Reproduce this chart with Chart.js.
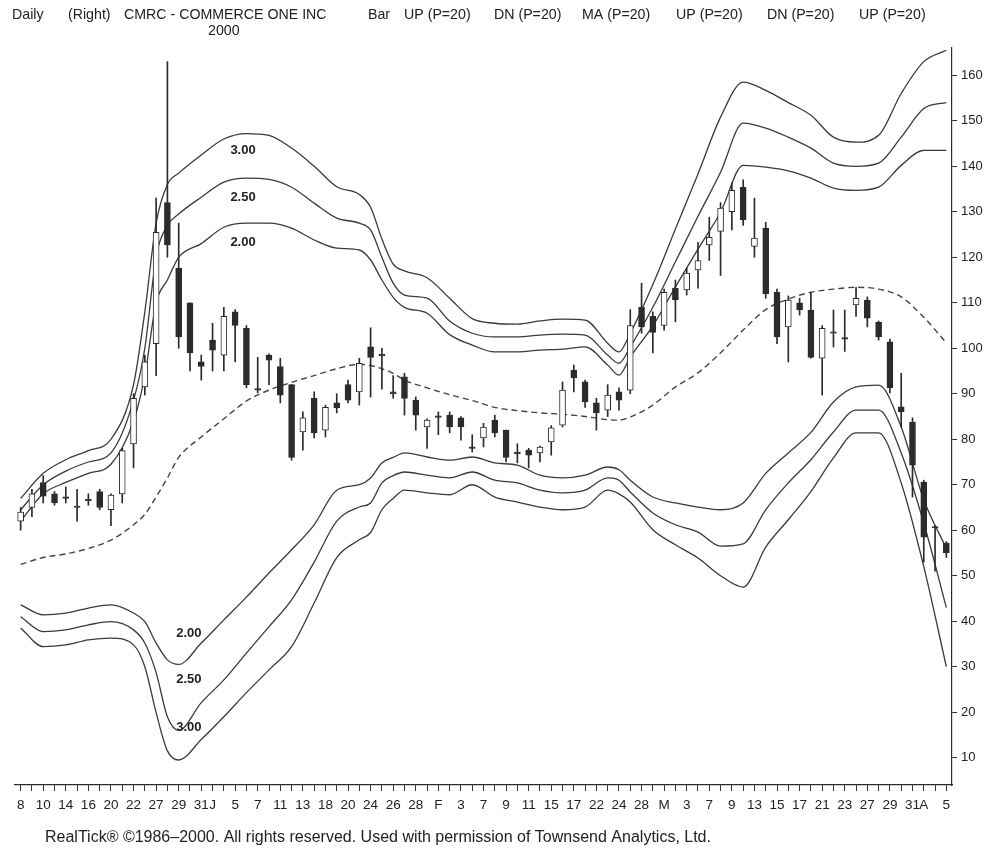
<!DOCTYPE html>
<html lang="en">
<head>
<meta charset="UTF-8">
<title>CMRC - Commerce One Inc 2000</title>
<script src="https://cdn.jsdelivr.net/npm/chart.js"></script>
<style>
  html, body { margin: 0; padding: 0; background: #fff; }
  #wrap { width: 994px; height: 856px; position: relative; }
</style>
</head>
<body>
<div id="wrap"><canvas id="chart"></canvas></div>

<script>
// trading days, Dec 8 1999 .. Apr 5 2000
const dates = [
  '12/08','12/09','12/10','12/13','12/14','12/15','12/16','12/17','12/20','12/21','12/22','12/23','12/27','12/28','12/29','12/30','12/31',
  '01/03','01/04','01/05','01/06','01/07','01/10','01/11','01/12','01/13','01/14','01/18','01/19','01/20','01/21','01/24','01/25','01/26','01/27','01/28','01/31',
  '02/01','02/02','02/03','02/04','02/07','02/08','02/09','02/10','02/11','02/14','02/15','02/16','02/17','02/18','02/22','02/23','02/24','02/25','02/28','02/29',
  '03/01','03/02','03/03','03/06','03/07','03/08','03/09','03/10','03/13','03/14','03/15','03/16','03/17','03/20','03/21','03/22','03/23','03/24','03/27','03/28','03/29','03/30','03/31',
  '04/03','04/04','04/05'
];

const xTickLabels = [
  '8','','10','','14','','16','','20','','22','','27','','29','','31',
  'J','','5','','7','','11','','13','','18','','20','','24','','26','','28','',
  'F','','3','','7','','9','','11','','15','','17','','22','','24','','28','',
  'M','','3','','7','','9','','13','','15','','17','','21','','23','','27','','29','','31',
  'A','','5'
];

const opens  = [62,65,70.5,68,67.2,65.3,66.8,68.5,64.5,68,79,91.5,101,132,117.6,110,97,101.8,98.5,108,104.4,91,98.5,96,92,81.6,89,82,88,92,90.4,100.3,98.7,90.4,93.7,88.6,82.7,85,85.3,84.7,78.2,80.3,84.2,82,77,77.6,77,79.4,83.1,95.2,92.6,88,86.4,90.4,90.8,109,107,105,113.2,112.8,117.2,122.7,125.7,130,135.4,122.4,126.4,112.3,104.7,110,108.4,97.8,103.5,102.2,109.5,110.6,105.7,101.4,87.1,83.8,70.6,60.7,57.2];
const highs  = [65,69,72,68.5,69.5,69,68,69,68,78,90,98.5,133,163,127.5,110,98.5,105.5,109,108.5,105,98,98.8,97.8,92,86,90.4,87.5,90,93,97.8,104.5,100,94,94.5,89.3,84.5,86,86,85,81,83.5,85.3,82,79,78,78.5,83,92.6,96.3,93,89,92,91.3,108.5,114.3,108,113,115,117.6,123.3,128.8,132,136.3,137,133,127.7,113,111.5,111,112.3,105,108.4,108.4,113.4,111.3,106,102,94.5,84.7,71,61,57.5];
const lows   = [60,63,66,65.5,66,62,65.5,64.5,61,66,73.7,89.7,94,120,100,95,93,95,95,97,91.3,90.2,92,88,75.4,77.6,80.3,80.5,85.8,88,87.5,89.3,91,89,85.3,82,78,81,81.4,79.8,77.2,78.3,80.5,75,74.8,73.7,75,76.5,82.7,90.4,87,82,85,86.4,90,103.3,99,104,105.8,111.7,113.2,119.3,116,126,127,120,111,101,97,107.3,97.8,89.7,100.3,99.3,107,104.7,101.8,90.2,82.7,67.3,53,51,54];
const closes = [64,68,67.5,66,67,65,66.5,65,67.7,77.5,89,97,125.5,122.7,102.5,99,96,99.6,107,105,92,90.8,97.4,89.7,76,84.7,81.4,87,86.9,88.6,96.7,98,98.3,90,89,85.3,84.2,84.8,82.7,82.7,78,82.7,81.4,76,76.8,76.5,78.3,82.5,90.8,93.5,88.2,85.8,89.7,88.6,105,104.7,103.5,112.3,110.6,116.5,119.3,124.4,130.8,134.7,128.2,124.2,112,102.5,110.6,108.4,98,104.4,103.3,102,111,106.6,102.5,91.3,86,74.3,58.5,60.5,55];

// days (index into dates) at which the band lines were read
const bandIdx = [0,2,4,6,8,10,11,12,13,14,16,18,20,22,24,26,28,30,31,32,33,34,36,38,40,42,44,46,48,50,52,53,54,56,58,60,62,64,66,68,70,72,74,76,78,80,82];

const up30 = [67,72.5,75.5,77.5,80,92,108,127.5,136,138.5,142.5,146,147.2,146.8,144,140,135.5,133.8,131,124,118.5,117,115.5,111,106.5,105.5,105.3,106,106.4,106.2,101.1,99.2,103.3,114,126.2,138.3,150.8,158.5,156.7,154,151.2,146.4,145.3,146.8,156,163,165.5];
const up25 = [64.5,70,73,75,77,88.6,100,120,127,129.5,133.2,136.5,137.4,137.1,135.4,131.9,128.6,127.5,126,120,114.3,111.7,111,106,103.3,102.5,102.5,102.9,103.1,102.9,98.5,96.7,100.3,109,119,129,138.7,149.5,148.4,146.4,144,140.7,140,140.7,146.4,152.7,154];
const up20 = [62,68,70.5,72.5,74.5,84,94,110,115,120,123,126.6,127.5,127.5,126.4,123.8,122,121.6,119.4,115,111.2,109,107.7,103,100.7,99.2,99.2,99.6,99.8,100.3,96.3,94.1,98.1,104.9,113.5,121.8,129.9,140.2,139.8,139,137.4,135.2,134.7,135.4,140.2,143.5,143.5];
const ma20 = [52.5,54,54.8,56,57.8,61.2,63.5,67.3,71.5,76,80.5,84.5,88.4,90.8,92.5,94,95.5,96.5,96.2,95.5,94.5,93,91.3,89.8,88.5,87,86.3,85.8,85.5,85,84.3,84.2,84.9,87.5,91.5,94.6,99,104,108.5,110.8,112.3,113,113.4,113,111.3,106.8,101.2];
const dn20 = [43.6,41.4,41.8,42.9,43.6,41.8,39.9,35.2,31.5,30.5,35.2,40.3,45.3,50.6,55.7,61.2,68.8,70,71.5,74.8,76,77,76.1,75.4,76.1,74.8,74.3,72.1,71.5,72.1,73.9,73.3,71,67.3,66,65.1,64.5,66,72.5,77,81.5,88.2,91.5,91.9,82.7,66.7,56];
const dn25 = [41,37.7,38.1,39.2,39.9,38.1,35.2,28.7,19,16,22.1,27.1,33,38.8,44.7,53,62,65.1,66,70.4,72,72.8,72.1,71.5,72.8,71,70.4,68.8,68.2,68.8,71.5,71,68.4,63.8,61.2,59.6,56.5,57,64.5,70.4,75.5,81.6,86.4,86.4,77,61.6,43];
const dn30 = [38.5,34.4,34.8,35.9,36.3,34.8,30,19.9,11.5,9.5,14,19,24.3,29.3,34.4,44,54,57.9,59.5,64.5,67,68.8,68.2,67.8,70,67.3,66.2,65.1,64.5,65.1,68.8,68,66.2,60.1,56.8,53.9,50,47.5,56.3,62.3,68.5,75.9,81.4,81.4,70.4,52,30];

const ink = '#2b2b2b';
const family = '"Liberation Sans", Arial, sans-serif';

const bodies = dates.map((d, i) => [Math.min(opens[i], closes[i]), Math.max(opens[i], closes[i])]);
const wicks = dates.map((d, i) => [lows[i], highs[i]]);
const bodyFill = dates.map((d, i) => closes[i] < opens[i] ? ink : '#ffffff');
const band = vals => vals.map((v, k) => ({ x: dates[bandIdx[k]], y: v }));

const lineStyle = {
  type: 'line',
  borderColor: '#3a3a3a',
  borderWidth: 1.3,
  pointRadius: 0,
  fill: false,
  cubicInterpolationMode: 'monotone'
};

// header, footer and the band tags are plain text drawn on top
const annotate = {
  id: 'annotate',
  beforeDraw(chart) {
    const ctx = chart.ctx;
    ctx.save();
    ctx.fillStyle = '#fff';
    ctx.fillRect(0, 0, chart.width, chart.height);
    ctx.restore();
  },
  afterDraw(chart) {
    const { ctx, scales: { x, y } } = chart;
    ctx.save();
    ctx.fillStyle = '#222';
    ctx.textBaseline = 'middle';
    ctx.font = '14.2px ' + family;
    [['Daily', 12], ['(Right)', 68], ['CMRC - COMMERCE ONE INC', 124], ['Bar', 368],
     ['UP (P=20)', 404], ['DN (P=20)', 494], ['MA (P=20)', 582], ['UP (P=20)', 676],
     ['DN (P=20)', 767], ['UP (P=20)', 859]].forEach(([t, px]) => ctx.fillText(t, px, 15));
    ctx.fillText('2000', 208, 31);

    ctx.font = '16px ' + family;
    ctx.fillText('RealTick\u00ae \u00a91986\u20132000. All rights reserved. Used with permission of Townsend Analytics, Ltd.', 45, 838);

    ctx.font = 'bold 13px ' + family;
    ctx.textAlign = 'center';
    [['3.00', 19.7, 143.5], ['2.50', 19.7, 133.2], ['2.00', 19.7, 123.3],
     ['2.00', 14.9, 37.4], ['2.50', 14.9, 27.1], ['3.00', 14.9, 16.6]]
      .forEach(([t, i, v]) => ctx.fillText(t, x.getPixelForValue(i), y.getPixelForValue(v)));
    ctx.restore();
  }
};

new Chart(document.getElementById('chart'), {
  type: 'bar',
  data: {
    labels: dates,
    datasets: [
      {
        label: 'Body',
        data: bodies,
        backgroundColor: bodyFill,
        borderColor: ink,
        borderWidth: 1,
        borderSkipped: false,
        barThickness: 6,
        minBarLength: 1.5,
        grouped: false
      },
      {
        label: 'Wick',
        data: wicks,
        backgroundColor: ink,
        borderWidth: 0,
        barThickness: 1,
        grouped: false
      },
      { ...lineStyle, label: 'UP 3.00', data: band(up30) },
      { ...lineStyle, label: 'UP 2.50', data: band(up25) },
      { ...lineStyle, label: 'UP 2.00', data: band(up20) },
      { ...lineStyle, label: 'MA', data: band(ma20), borderDash: [6, 4], borderWidth: 1.4, borderColor: '#444' },
      { ...lineStyle, label: 'DN 2.00', data: band(dn20) },
      { ...lineStyle, label: 'DN 2.50', data: band(dn25) },
      { ...lineStyle, label: 'DN 3.00', data: band(dn30) }
    ]
  },
  options: {
    responsive: true,
    maintainAspectRatio: false,
    animation: false,
    layout: { padding: { top: 48, left: 15, right: 0, bottom: 41 } },
    plugins: {
      legend: { display: false },
      tooltip: { enabled: false }
    },
    scales: {
      x: {
        type: 'category',
        offset: true,
        grid: { drawOnChartArea: false, drawTicks: true, tickLength: 6, color: '#333', offset: false },
        border: { display: true, color: ink, width: 1.2 },
        ticks: {
          autoSkip: false,
          maxRotation: 0,
          minRotation: 0,
          padding: 6,
          color: '#222',
          font: { size: 13.5, family: family },
          callback: (v, i) => xTickLabels[i]
        },
        afterFit: s => { s.height = 30; }
      },
      y: {
        position: 'right',
        min: 4,
        max: 166,
        grid: { drawOnChartArea: false, tickLength: 5, color: '#333' },
        border: { display: true, color: ink, width: 1.2 },
        ticks: {
          stepSize: 10,
          includeBounds: false,
          padding: 4,
          color: '#222',
          font: { size: 13, family: family }
        },
        afterFit: s => { s.width = 42; }
      }
    }
  },
  plugins: [annotate]
});
</script>
</body>
</html>
